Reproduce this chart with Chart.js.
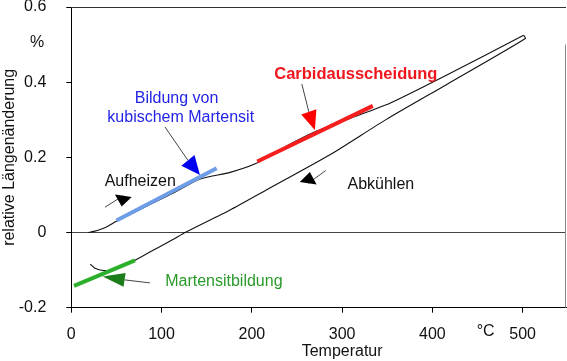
<!DOCTYPE html>
<html>
<head>
<meta charset="utf-8">
<script src="https://cdn.jsdelivr.net/npm/chart.js@4.4.1/dist/chart.umd.min.js"></script>
<style>
  html, body { margin: 0; padding: 0; background: #fff; }
  canvas { display: block; }
</style>
</head>
<body>
<canvas id="dilatometer" width="567" height="361"></canvas>
<script>
// Temperatur in °C, relative Längenänderung in %
const heatTemp = [19, 25, 32, 40, 50, 80, 113, 142, 176, 205, 240, 270, 310, 353, 416, 501];
const heatStrain = [0, 0.003, 0.008, 0.016, 0.030, 0.066, 0.105, 0.142, 0.160, 0.184, 0.232, 0.268, 0.305, 0.344, 0.419, 0.525];

const coolTemp = [501, 503, 416, 349, 286, 216, 176, 126, 113, 87, 70.5, 61, 46.5, 35.4, 26.3, 20.9];
const coolStrain = [0.525, 0.516, 0.394, 0.301, 0.206, 0.113, 0.060, 0, -0.018, -0.052, -0.074, -0.086, -0.099, -0.101, -0.095, -0.084];

// markierte Bereiche
const blueTemp = [50, 161];
const blueStrain = [0.032, 0.171];
const redTemp = [206, 334];
const redStrain = [0.189, 0.337];
const greenTemp = [3, 70.5];
const greenStrain = [-0.142, -0.074];

const xTicks = [0, 100, 200, 300, 400, 500];
const yTicks = [-0.2, 0, 0.2, 0.4, 0.6];
const yTickLabels = ['-0.2', '0', '0.2', '0.4', '0.6'];

const FONT = '"Liberation Sans", Arial, sans-serif';

const toPoints = (xs, ys) => xs.map((x, i) => ({ x: x, y: ys[i] }));

// Beschriftungen (in Datenkoordinaten)
const notes = [
  { text: 'Bildung von', x: 116.6, y: 0.357, color: '#2424e6' },
  { text: 'kubischem Martensit', x: 121.2, y: 0.3065, color: '#2424e6' },
  { text: 'Carbidausscheidung', x: 315.2, y: 0.4215, color: '#f0161e', bold: true },
  { text: 'Aufheizen', x: 76.4, y: 0.1355, color: '#111' },
  { text: 'Abkühlen', x: 342.9, y: 0.128, color: '#111' },
  { text: 'Martensitbildung', x: 169, y: -0.131, color: '#2a9a2a' }
];

const arrows = [
  { tail: [103.7, 0.281], base: [129.2, 0.192], tip: [142.5, 0.153], width: 17, color: '#0000f0' },
  { tail: [255.4, 0.395], base: [263.1, 0.321], tip: [269.8, 0.273], width: 16, color: '#ff0000' },
  { tail: [37.3, 0.0675], base: [57.6, 0.098], tip: [55.8, 0.069], width: 17, color: '#000' },
  { tail: [281.9, 0.165], base: [262.4, 0.131], tip: [264.3, 0.161], width: 17, color: '#000' },
  { tail: [87.1, -0.134], base: [59, -0.126], tip: [34.8, -0.117], width: 14, color: '#1a7d1a' }
];

const extrasPlugin = {
  id: 'extras',
  beforeDatasetsDraw(chart) {
    const { ctx, chartArea, scales } = chart;
    ctx.save();
    ctx.lineWidth = 1;
    ctx.strokeStyle = '#333';
    ctx.beginPath();
    ctx.moveTo(chartArea.left, chartArea.top + 0.5);
    ctx.lineTo(chartArea.right, chartArea.top + 0.5);
    ctx.stroke();
    ctx.strokeStyle = '#888';
    ctx.beginPath();
    ctx.moveTo(chartArea.right - 0.5, scales.y.getPixelForValue(0.5));
    ctx.lineTo(chartArea.right - 0.5, chartArea.bottom);
    ctx.stroke();
    ctx.restore();
  },
  afterDatasetsDraw(chart) {
    const { ctx, chartArea, scales } = chart;
    const px = p => [scales.x.getPixelForValue(p[0]), scales.y.getPixelForValue(p[1])];
    ctx.save();

    arrows.forEach(a => {
      const t = px(a.tail), b = px(a.base), h = px(a.tip);
      ctx.strokeStyle = '#444';
      ctx.lineWidth = 1;
      ctx.beginPath();
      ctx.moveTo(t[0], t[1]);
      ctx.lineTo(b[0], b[1]);
      ctx.stroke();
      const dx = h[0] - b[0], dy = h[1] - b[1];
      const len = Math.hypot(dx, dy);
      const nx = -dy / len * a.width / 2, ny = dx / len * a.width / 2;
      ctx.fillStyle = a.color;
      ctx.beginPath();
      ctx.moveTo(h[0], h[1]);
      ctx.lineTo(b[0] + nx, b[1] + ny);
      ctx.lineTo(b[0] - nx, b[1] - ny);
      ctx.closePath();
      ctx.fill();
    });

    ctx.textAlign = 'center';
    ctx.textBaseline = 'middle';
    notes.forEach(n => {
      ctx.font = (n.bold ? 'bold 16.5px ' : '16px ') + FONT;
      ctx.fillStyle = n.color;
      const p = px([n.x, n.y]);
      ctx.fillText(n.text, p[0], p[1]);
    });

    // Achsentitel und Einheiten
    ctx.fillStyle = '#111';
    ctx.font = '16px ' + FONT;
    ctx.fillText('Temperatur', scales.x.getPixelForValue(300), 352);
    ctx.fillText('°C', scales.x.getPixelForValue(459), 332);
    ctx.fillText('%', 37, scales.y.getPixelForValue(0.505));
    ctx.translate(10, (chartArea.top + chartArea.bottom) / 2);
    ctx.rotate(-Math.PI / 2);
    ctx.fillText('relative Längenänderung', 0, 0);
    ctx.restore();
  }
};

const thick = (data, color) => ({
  data: data,
  showLine: true,
  borderColor: color,
  borderWidth: 4,
  pointRadius: 0,
  borderCapStyle: 'butt',
  order: 0
});

new Chart(document.getElementById('dilatometer'), {
  type: 'scatter',
  data: {
    datasets: [
      thick(toPoints(blueTemp, blueStrain), '#6e9de8'),
      thick(toPoints(redTemp, redStrain), '#f41e1e'),
      thick(toPoints(greenTemp, greenStrain), '#2cb02c'),
      {
        label: 'Aufheizen',
        data: toPoints(heatTemp, heatStrain),
        showLine: true,
        borderColor: '#111',
        borderWidth: 1.1,
        pointRadius: 0,
        tension: 0.2,
        order: 1
      },
      {
        label: 'Abkühlen',
        data: toPoints(coolTemp, coolStrain),
        showLine: true,
        borderColor: '#111',
        borderWidth: 1.1,
        pointRadius: 0,
        tension: 0.2,
        order: 1
      }
    ]
  },
  options: {
    responsive: false,
    animation: false,
    devicePixelRatio: 1,
    layout: { padding: { top: 7, right: 1, left: 0, bottom: 0 } },
    plugins: {
      legend: { display: false },
      tooltip: { enabled: false }
    },
    scales: {
      x: {
        type: 'linear',
        min: 0,
        max: 548,
        afterBuildTicks: s => { s.ticks = xTicks.map(v => ({ value: v })); },
        afterFit: s => {
          s.height = 53.3;
          s.paddingLeft = 0;
          s.paddingRight = 0;
        },
        grid: { drawOnChartArea: false, tickColor: '#000', tickLength: 5 },
        border: { color: '#000', width: 1 },
        ticks: {
          padding: 12,
          color: '#111',
          font: { family: FONT, size: 16 },
          maxRotation: 0
        }
      },
      y: {
        type: 'linear',
        min: -0.2,
        max: 0.6,
        afterBuildTicks: s => { s.ticks = yTicks.map(v => ({ value: v })); },
        afterFit: s => {
          s.width = 71.3;
          s.paddingTop = 0;
          s.paddingBottom = 0;
        },
        grid: {
          color: c => (c.tick && Math.abs(c.tick.value) < 1e-9 ? '#444' : 'rgba(0,0,0,0)'),
          tickColor: '#000',
          tickLength: 5
        },
        border: { color: '#000', width: 1 },
        ticks: {
          padding: 20,
          color: '#111',
          font: { family: FONT, size: 16 },
          callback: (v, i) => yTickLabels[i]
        }
      }
    }
  },
  plugins: [extrasPlugin]
});
</script>
</body>
</html>
